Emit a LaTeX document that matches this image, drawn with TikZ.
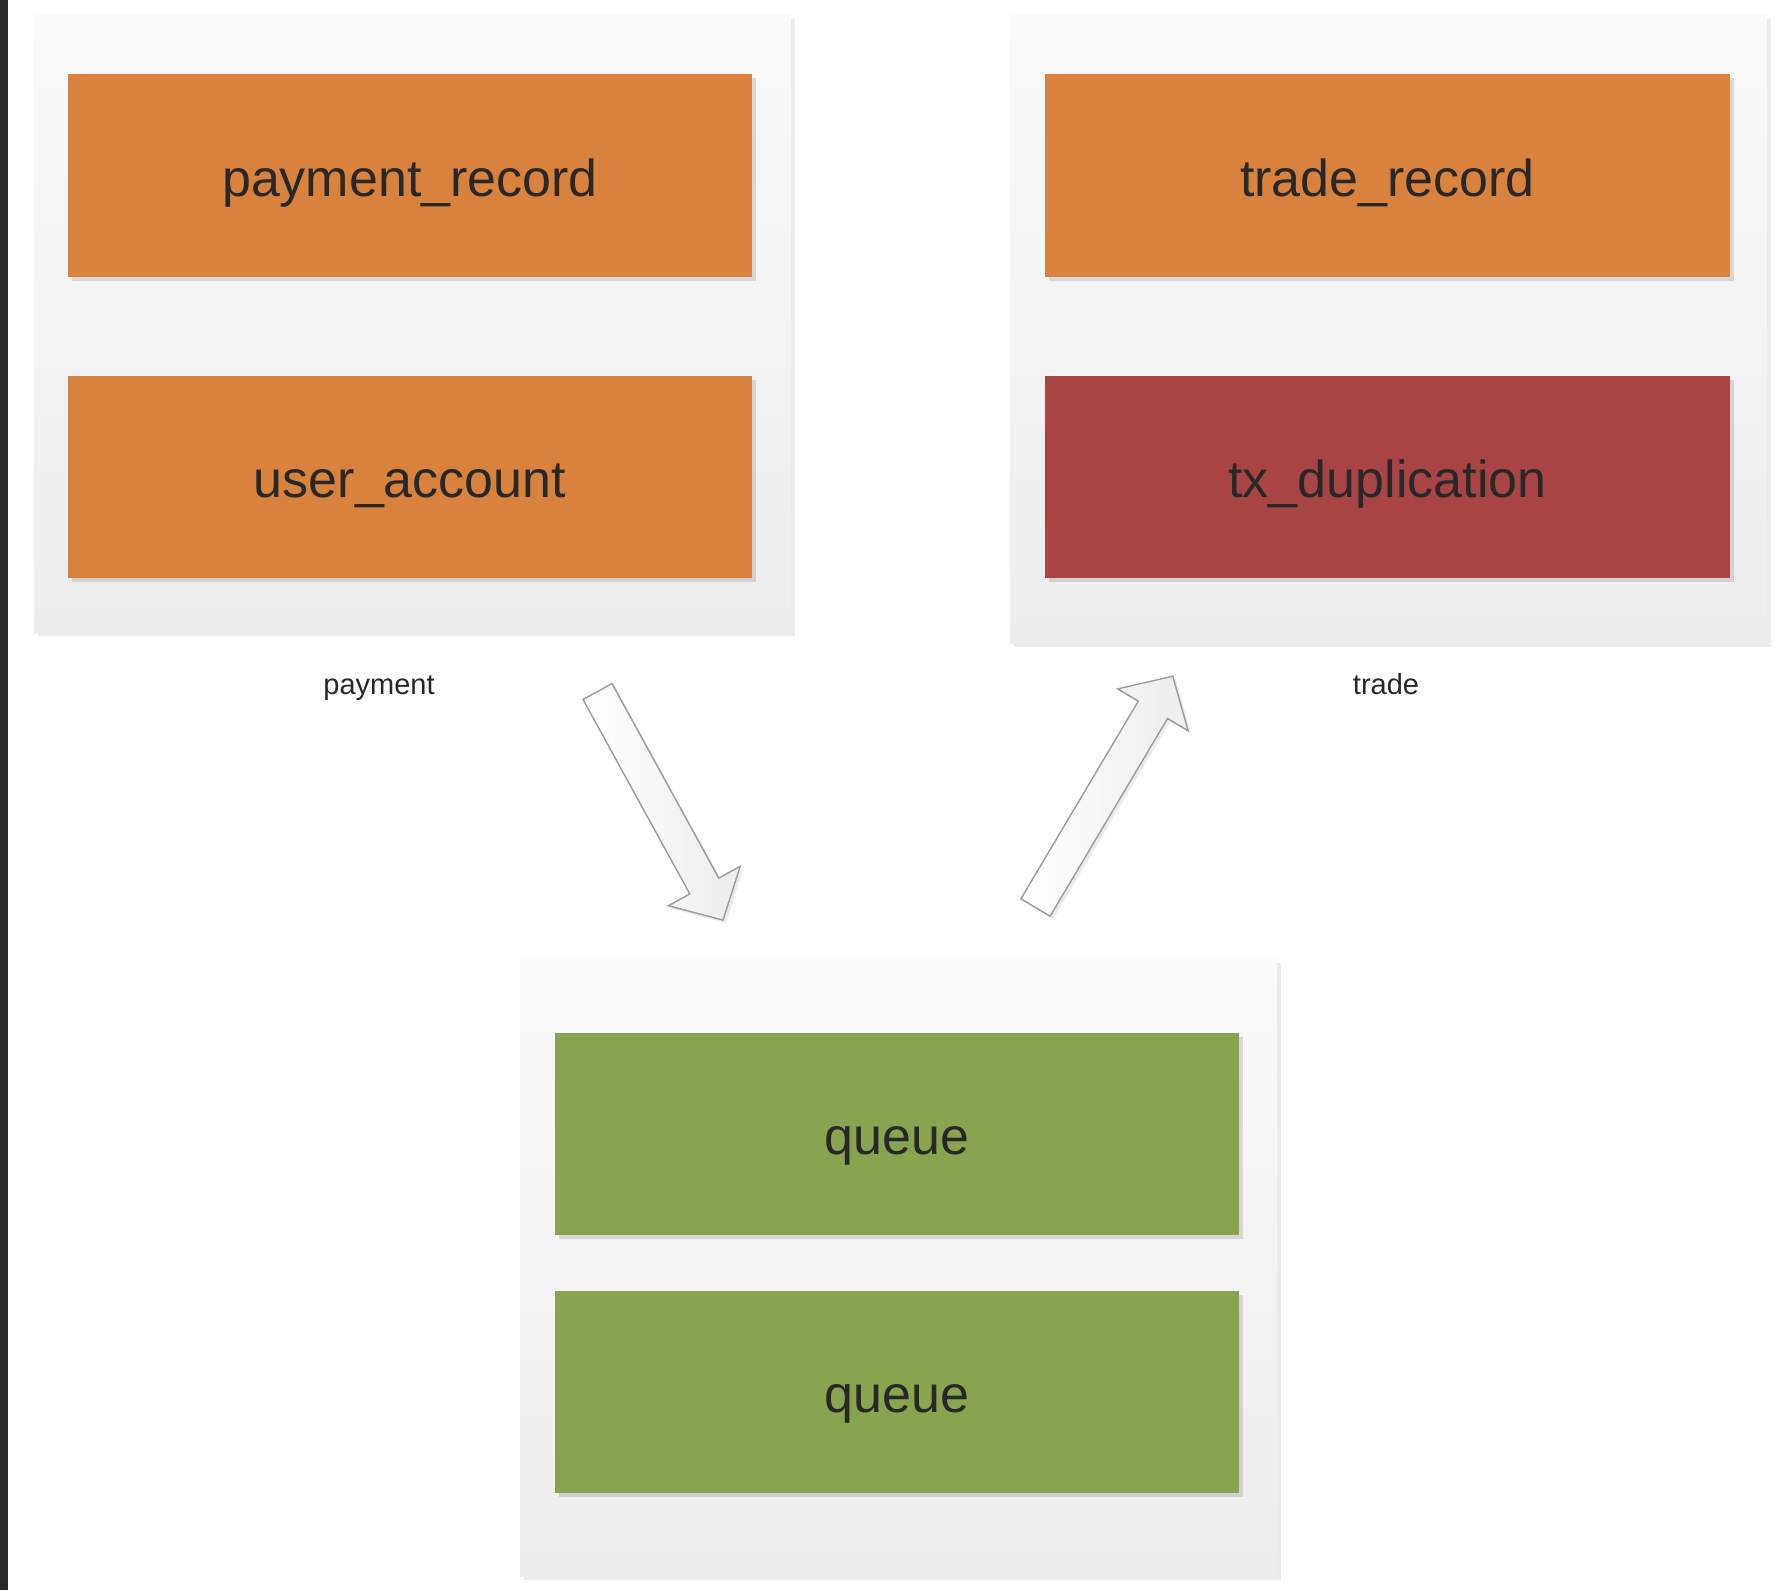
\documentclass[tikz,border=0pt]{standalone}
\usepackage{fontspec}
\setmainfont{Liberation Sans}
\usetikzlibrary{shadows}
\definecolor{boxorange}{RGB}{217,130,61}
\definecolor{boxred}{RGB}{168,68,68}
\definecolor{boxgreen}{RGB}{136,164,78}
\definecolor{txt}{RGB}{40,40,40}
\definecolor{paneltop}{RGB}{250,250,250}
\definecolor{panelbot}{RGB}{237,237,237}
\definecolor{arrowline}{RGB}{155,155,155}
\definecolor{strip}{RGB}{42,42,42}
\begin{document}
\begin{tikzpicture}[x=1pt,y=-1pt,
  panel/.style={rectangle, inner sep=0pt, minimum width=757pt, top color=paneltop, bottom color=panelbot, draw=none,
    drop shadow={shadow xshift=4pt, shadow yshift=-4pt, opacity=0.08, fill=black}},
  tbl/.style={rectangle, inner sep=0pt, minimum width=684pt, minimum height=203pt, text=txt,
    font=\fontsize{52}{62}\selectfont, text height=41pt, text depth=0pt, draw=none,
    drop shadow={shadow xshift=4pt, shadow yshift=-4pt, opacity=0.12, fill=black}},
  lbl/.style={text=txt, font=\fontsize{29}{34}\selectfont, inner sep=0pt, anchor=base},
  blockarrow/.style={draw=arrowline, line width=1.4pt, line join=miter, left color=white, right color=panelbot,
    drop shadow={shadow xshift=3pt, shadow yshift=-3pt, opacity=0.08, fill=black}}]
\useasboundingbox (0,0) rectangle (1782,1590);
\fill[white] (0,0) rectangle (1782,1590);
\fill[strip] (0,0) rectangle (8,1590);

% panels
\node[panel, minimum height=618pt] (paypanel) at (412.5,323) {};
\node[panel, minimum height=629pt] (tradepanel) at (1388.5,328.5) {};
\node[panel, minimum height=617pt] (queuepanel) at (898.5,1267.5) {};

% tables
\node[tbl, fill=boxorange] (pr) at (410,175.5) {payment\_record};
\node[tbl, fill=boxorange, minimum height=202pt] (ua) at (410,477) {user\_account};
\node[tbl, fill=boxorange, minimum width=685pt] (tr) at (1387.5,175.5) {trade\_record};
\node[tbl, fill=boxred, minimum width=685pt, minimum height=202pt] (td) at (1387.5,477) {tx\_duplication};
\node[tbl, fill=boxgreen, minimum height=202pt] (q1) at (897,1134) {queue};
\node[tbl, fill=boxgreen, minimum height=202pt] (q2) at (897,1392) {queue};

% labels
\node[lbl] (paylbl) at (379,694) {payment};
\node[lbl] (tradelbl) at (1386,694) {trade};

% block arrows
\draw[blockarrow] (583.0,699.4) -- (612.0,683.6) -- (718.8,878.1) -- (740.2,866.3)
  -- (723.0,920.1) -- (668.4,905.7) -- (689.8,893.9) -- cycle;
\draw[blockarrow] (1020.9,898.8) -- (1138.3,701.1) -- (1117.7,688.9) -- (1172.8,676.2)
  -- (1188.1,730.7) -- (1167.5,718.5) -- (1050.1,916.2) -- cycle;
\end{tikzpicture}
\end{document}
